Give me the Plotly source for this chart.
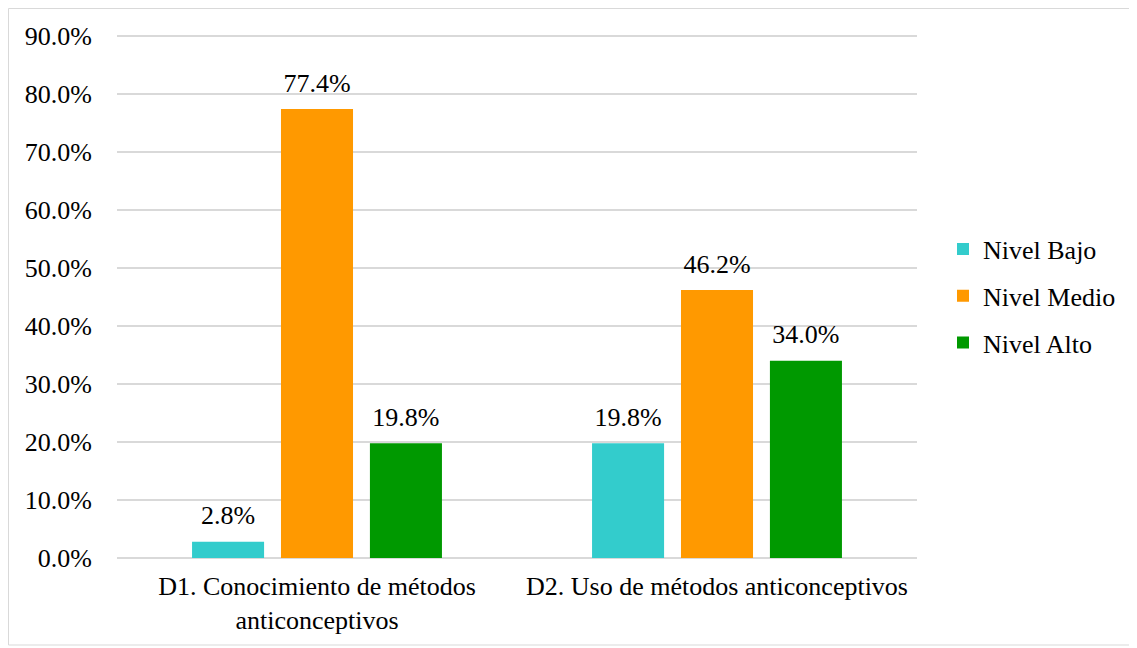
import plotly.graph_objects as go

categories = ["D1. Conocimiento de métodos<br>anticonceptivos",
              "D2. Uso de métodos anticonceptivos"]
series_names = ["Nivel Bajo", "Nivel Medio", "Nivel Alto"]
bajo = [2.8, 19.8]
medio = [77.4, 46.2]
alto = [19.8, 34.0]
tick_vals = [0, 10, 20, 30, 40, 50, 60, 70, 80, 90]
tick_text = [f"{v:.1f}%" for v in tick_vals]

colors = ["#33CCCC", "#FF9900", "#009900"]
FONT = "'Times New Roman', 'Liberation Serif', Tinos, serif"
FS = 26

# page has an 8px body margin, so the figure sits at (8, 8)
W, H = 1129, 640
L, R, T, B = 109, 220, 26, 90

fig = go.Figure()
for name, vals, col in zip(series_names, [bajo, medio, alto], colors):
    fig.add_trace(go.Bar(
        x=categories, y=vals, name=name, marker_color=col,
        marker_line_width=0, legendgroup=name, offsetgroup=name,
    ))
# value labels, grouped like the bars, lifted off the bar tops
for name, vals in zip(series_names, [bajo, medio, alto]):
    fig.add_trace(go.Scatter(
        x=categories, y=vals, mode="markers+text", offsetgroup=name,
        text=[f"{v:.1f}%" for v in vals], textposition="top center",
        marker=dict(size=16, opacity=0), showlegend=False,
        textfont=dict(family=FONT, size=FS, color="#000000"),
        cliponaxis=False, hoverinfo="skip",
    ))

# outer chart border in paper coords
pw, ph = W - L - R, H - T - B
x0 = (0.5 - L) / pw
x1 = (1125 - L) / pw
y0 = (H - B - 637) / ph
y1 = (H - B - 0.5) / ph
fig.add_shape(type="rect", xref="paper", yref="paper",
              x0=x0, x1=x1, y0=y0, y1=y1,
              line=dict(color="#D9D9D9", width=1), layer="below")

fig.update_layout(
    width=W, height=H,
    margin=dict(l=L, r=R, t=T, b=B),
    paper_bgcolor="white", plot_bgcolor="white",
    font=dict(family=FONT, size=FS, color="#000000"),
    barmode="group", bargap=0.333, bargroupgap=0.19,
    scattermode="group", scattergap=0.333,
    showlegend=True,
    legend=dict(x=1.0325, y=0.5, xanchor="left", yanchor="middle",
                font=dict(family=FONT, size=FS, color="#000000"),
                itemwidth=30, tracegroupgap=10, traceorder="grouped"),
    xaxis=dict(showgrid=False, showline=False, ticks="", automargin=False,
               ticklabelstandoff=10,
               tickfont=dict(family=FONT, size=FS, color="#000000")),
    yaxis=dict(range=[0, 90.35], tickvals=tick_vals, ticktext=tick_text,
               showgrid=True, gridcolor="#D9D9D9", gridwidth=1.5,
               zeroline=True, zerolinecolor="#D9D9D9", zerolinewidth=1.5,
               showline=False, ticks="", ticklen=0, ticklabelstandoff=24,
               automargin=False,
               tickfont=dict(family=FONT, size=FS, color="#000000")),
)

fig.write_html("out.html")
